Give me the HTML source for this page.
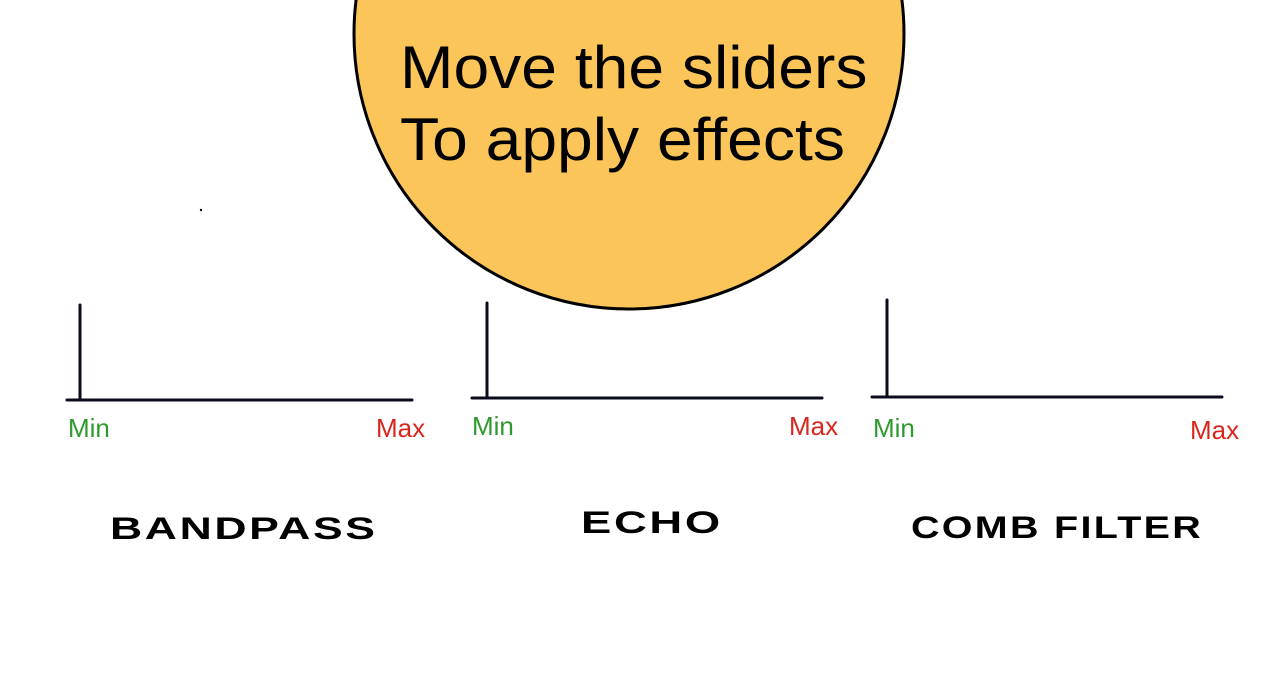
<!DOCTYPE html>
<html><head><meta charset="utf-8"><style>
body{margin:0;width:1280px;height:694px;background:#fff;overflow:hidden;position:relative;font-family:"Liberation Sans",sans-serif}
.t{position:absolute;font-size:60px;color:#000;white-space:nowrap;line-height:1;transform-origin:0 0}
.l{position:absolute;font-size:26px;line-height:1}
.g{color:#2e9a2e}.r{color:#d9261c}
.h{position:absolute;font-weight:bold;font-size:34px;line-height:1;white-space:nowrap;transform-origin:0 0;letter-spacing:2px}
</style></head><body>
<svg width="1280" height="694" style="position:absolute;left:0;top:0">
<circle cx="629" cy="34" r="275" fill="#fcc55a" stroke="#000" stroke-width="3"/>
<circle cx="201" cy="210" r="1.2" fill="#000"/>
<g stroke="#0b0b1e" stroke-width="3" fill="none" stroke-linecap="round">
<path d="M80 305 V399 M67 400 H412"/>
<path d="M487 303 V398 M472 398 H822"/>
<path d="M887 300 V397 M872 397 H1222"/>
</g></svg>
<div class="t" style="left:400px;top:38px;transform:scaleX(1.07)">Move the sliders</div>
<div class="t" style="left:400px;top:110px;transform:scaleX(1.07)">To apply effects</div>
<div class="l g" style="left:68px;top:415px">Min</div>
<div class="l r" style="left:376px;top:415px">Max</div>
<div class="l g" style="left:472px;top:413px">Min</div>
<div class="l r" style="left:789px;top:413px">Max</div>
<div class="l g" style="left:873px;top:415px">Min</div>
<div class="l r" style="left:1190px;top:417px">Max</div>
<div class="h" style="left:110px;top:513px;transform:scale(1.31,0.92)">BANDPASS</div>
<div class="h" style="left:581px;top:507px;transform:scale(1.335,0.92)">ECHO</div>
<div class="h" style="left:911px;top:512px;transform:scale(1.16,0.92)">COMB FILTER</div>
</body></html>
